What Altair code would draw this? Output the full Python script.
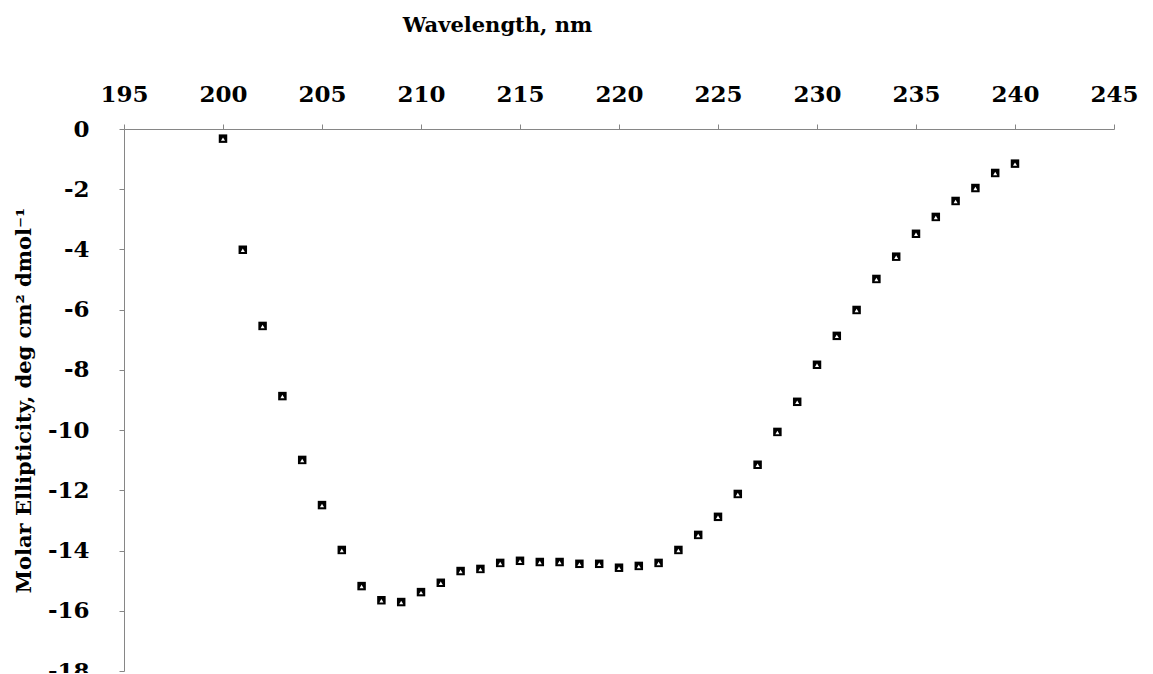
import altair as alt
import pandas as pd

wavelength = list(range(200, 241))
ellipticity = [
    -0.32, -4.01, -6.54, -8.87, -10.99, -12.49, -13.98, -15.18, -15.65, -15.71,
    -15.38, -15.07, -14.68, -14.61, -14.41, -14.34, -14.38, -14.38, -14.44, -14.44,
    -14.57, -14.51, -14.41, -13.98, -13.48, -12.88, -12.12, -11.15, -10.06, -9.06,
    -7.83, -6.87, -6.01, -4.98, -4.24, -3.48, -2.92, -2.39, -1.96, -1.46, -1.15,
]
x_ticks = list(range(195, 246, 5))
y_ticks = list(range(0, -19, -2))

df = pd.DataFrame({"wl": wavelength, "me": ellipticity})

FONT = "DejaVu Serif"
GRAY = "#868686"

x = alt.X(
    "wl:Q",
    scale=alt.Scale(domain=[195, 245], nice=False, zero=False),
    axis=alt.Axis(
        orient="top", values=x_ticks, title="Wavelength, nm", grid=False,
        labelFlush=False, labelOverlap=False,
        domainColor=GRAY, tickColor=GRAY, tickSize=5, labelPadding=18,
        labelFont=FONT, labelFontSize=23, labelFontWeight="bold", labelColor="black",
        titleFont=FONT, titleFontSize=21, titleFontWeight="bold", titleColor="black",
        titleX=373, titleY=-104, titleBaseline="middle", titleAlign="center",
    ),
)
y = alt.Y(
    "me:Q",
    scale=alt.Scale(domain=[-18, 0], nice=False),
    axis=alt.Axis(
        orient="left", values=y_ticks, grid=False,
        labelFlush=False, labelOverlap=False,
        title="Molar Ellipticity, deg cm² dmol⁻¹",
        labelExpr="'' + datum.value",
        domainColor=GRAY, tickColor=GRAY, tickSize=5, labelPadding=30,
        labelFont=FONT, labelFontSize=23, labelFontWeight="bold", labelColor="black",
        titleFont=FONT, titleFontSize=21, titleFontWeight="bold", titleColor="black",
        titleX=-100, titleY=271, titleBaseline="middle", titleAngle=-90,
    ),
)

squares = alt.Chart(df).mark_point(
    shape="square", filled=True, color="black", size=72, opacity=1
).encode(x=x, y=y)

tris = alt.Chart(df).mark_point(
    shape="triangle-up", filled=True, color="white", size=16, opacity=1, yOffset=0.5
).encode(x="wl:Q", y="me:Q")

chart = (
    alt.layer(squares, tris)
    .properties(
        width=990, height=542,
        autosize=alt.AutoSizeParams(type="none"),
        padding={"left": 116, "top": 121, "right": 31, "bottom": 2},
        background="white",
    )
    .configure_view(stroke=None)
)

chart.save("out.html", embed_options={"renderer": "svg", "actions": False})
